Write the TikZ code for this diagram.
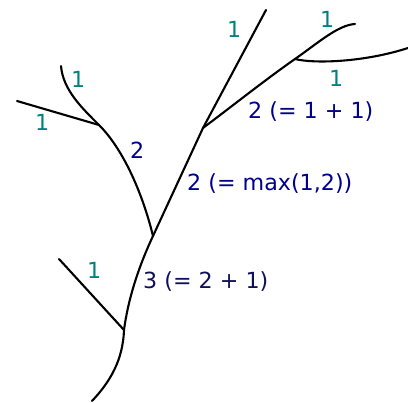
\documentclass[tikz,border=0pt]{standalone}
\usepackage{fontspec}
\setmainfont{DejaVu Sans}
\definecolor{lblone}{RGB}{0,128,128}
\definecolor{lbltwo}{RGB}{0,0,139}
\definecolor{lblthree}{RGB}{16,16,90}
\begin{document}
\begin{tikzpicture}[x=1pt,y=-1pt,
  branch/.style={line width=2.1pt,line cap=round,line join=round},
  lab/.style={inner sep=0pt,anchor=base west,font=\fontsize{22.2}{26}\selectfont},
  one/.style={lab,text=lblone},
  two/.style={lab,text=lbltwo},
  three/.style={lab,text=lblthree}]
\useasboundingbox (0,0) rectangle (408,403);
% junctions and ends
\coordinate (root) at (92,401);
\coordinate (A) at (124,330);
\coordinate (Aend) at (59,259);
\coordinate (B) at (153,236);
\coordinate (C) at (99,125);
\coordinate (Cl) at (17,101);
\coordinate (Cu) at (61,66);
\coordinate (D) at (203,128);
\coordinate (Du) at (266,10);
\coordinate (E) at (295,59);
\coordinate (Eu) at (355,24);
\coordinate (Er) at (408,48);
% branches
\draw[branch] (root) .. controls (110,382) and (123,360) .. (A)
  .. controls (128,300) and (138,268) .. (B);
\draw[branch] (A) -- (Aend);
\draw[branch] (B) .. controls (143,195) and (124,150) .. (C);
\draw[branch] (C) -- (Cl);
\draw[branch] (C) .. controls (82,108) and (63,90) .. (Cu);
\draw[branch] (B) -- (D);
\draw[branch] (D) -- (Du);
\draw[branch] (D) .. controls (235,104) and (265,80) .. (E);
\draw[branch] (E) .. controls (318,43) and (338,25) .. (Eu);
\draw[branch] (E) .. controls (315,64) and (365,62) .. (Er);
% labels
\node[one] (l1) at (227,38) {1};
\node[one] (l2) at (320,28) {1};
\node[one] (l3) at (329,87) {1};
\node[two] (l4) at (248,119) {2 (= 1 + 1)};
\node[two] (l5) at (187,191) {2 (= max(1,2))};
\node[two] (l6) at (130,159) {2};
\node[one] (l7) at (71,88) {1};
\node[one] (l8) at (35,131) {1};
\node[one] (l9) at (87,279) {1};
\node[three] (l10) at (143,289) {3 (= 2 + 1)};
\end{tikzpicture}
\end{document}
